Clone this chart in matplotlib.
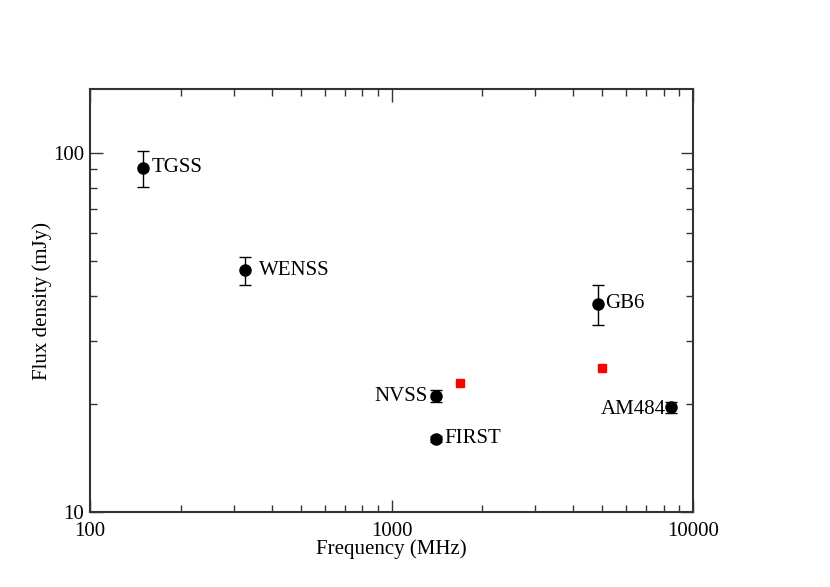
import matplotlib.pyplot as plt
from matplotlib.ticker import FixedLocator, NullFormatter

plt.rcParams['font.family'] = ['Liberation Serif', 'DejaVu Serif']

# measured points
names = ['TGSS', 'WENSS', 'NVSS', 'FIRST', 'GB6', 'AM484']
freq = [150, 327, 1400, 1400, 4850, 8460]
flux = [91, 47.2, 21.0, 16.0, 38.0, 19.6]
flux_err = [10.5, 4.2, 0.8, 0.3, 4.9, 0.7]

# red squares
freq_red = [1690, 5000]
flux_red = [22.8, 25.2]

fig = plt.figure(figsize=(8.3, 5.87), dpi=100)
ax = fig.add_axes([0.1084, 0.1278, 0.7266, 0.7202])

ax.errorbar(freq, flux, yerr=flux_err, fmt='o', color='black', ms=8,
            elinewidth=1, capsize=4, capthick=1)
ax.plot(freq_red, flux_red, 's', color='red', ms=5.5, mec='red')

# labels next to points
offsets = {'TGSS': (6, 0, 'left'), 'WENSS': (10, 0, 'left'),
           'NVSS': (-6, 0, 'right'), 'FIRST': (6, 0, 'left'),
           'GB6': (5, 0, 'left'), 'AM484': (-4, -2, 'right')}
for n, x, y in zip(names, freq, flux):
    dx, dy, ha = offsets[n]
    ax.annotate(n, (x, y), xytext=(dx, dy), textcoords='offset points',
                ha=ha, va='center', fontsize=15)

ax.set_xscale('log')
ax.set_yscale('log')
ax.set_xlim(100, 10000)
ax.set_ylim(10, 150.5)

ax.xaxis.set_major_locator(FixedLocator([100, 1000, 10000]))
ax.set_xticklabels(['100', '1000', '10000'])
ax.xaxis.set_minor_locator(FixedLocator([k * 10**e for e in (2, 3) for k in range(2, 10)]))
ax.xaxis.set_minor_formatter(NullFormatter())
ax.yaxis.set_major_locator(FixedLocator([10, 100]))
ax.set_yticklabels(['10', '100'])
ax.yaxis.set_minor_locator(FixedLocator(list(range(20, 100, 10))))
ax.yaxis.set_minor_formatter(NullFormatter())

ax.tick_params(which='both', direction='in', top=True, right=True,
               labelsize=15, color='#333333')
ax.tick_params(which='major', length=9, width=1)
ax.tick_params(which='minor', length=5, width=1)
ax.tick_params(axis='x', which='major', pad=7)
ax.tick_params(axis='y', which='major', pad=4)
for s in ax.spines.values():
    s.set_linewidth(1.5)
    s.set_color('#333333')

ax.set_xlabel('Frequency (MHz)', fontsize=15, labelpad=-1)
ax.set_ylabel('Flux density (mJy)', fontsize=15, labelpad=1)

fig.savefig('out.png', dpi=100)
